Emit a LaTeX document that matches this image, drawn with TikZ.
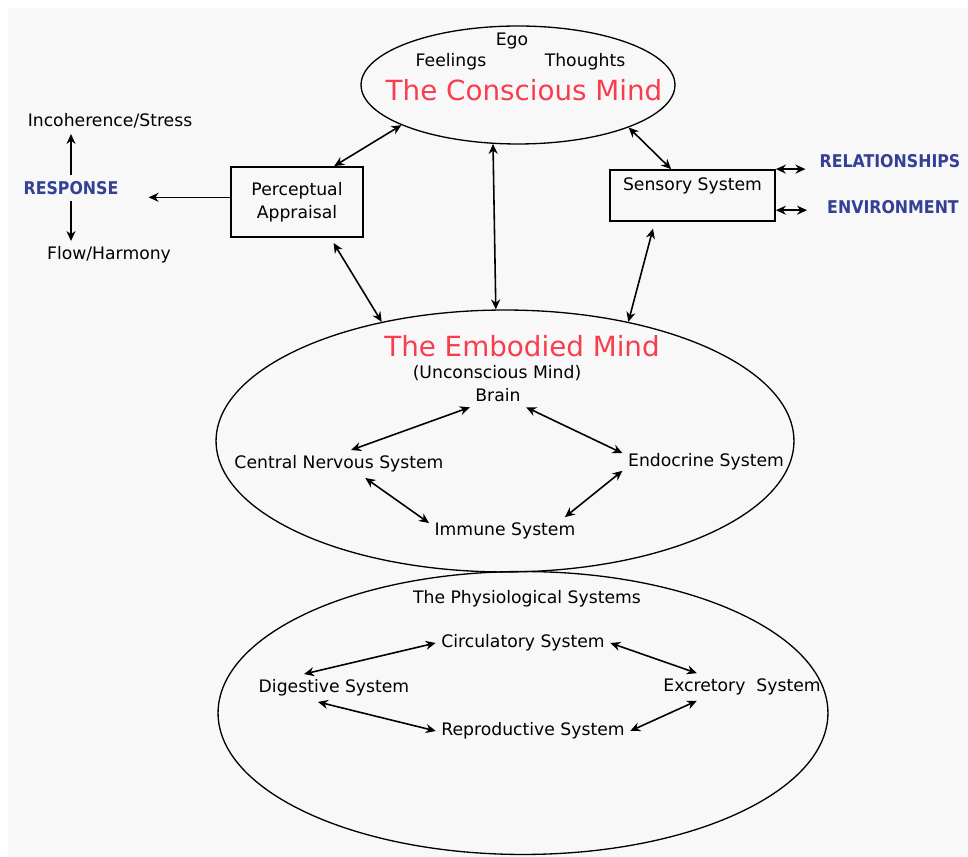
\documentclass[tikz,border=0pt]{standalone}
\usepackage{fontspec}
\setmainfont{DejaVu Sans}
\newfontfamily\condfont{DejaVu Sans Condensed}
\usetikzlibrary{shapes.geometric, arrows.meta}
\definecolor{mindred}{RGB}{248,62,78}
\definecolor{outblue}{RGB}{52,64,150}
\definecolor{paper}{RGB}{248,248,248}

\begin{document}
\begin{tikzpicture}[
  x=0.02cm, y=-0.02cm,
  oval/.style={ellipse, draw=black, line width=0.75pt, inner sep=0pt},
  box/.style={rectangle, draw=black, line width=1pt, inner sep=2pt, align=center, font=\fontsize{9.8}{13}\selectfont},
  lbl/.style={inner sep=3pt, font=\fontsize{9.8}{12}\selectfont},
  title/.style={inner sep=2pt, text=mindred, font=\fontsize{15.8}{18}\selectfont},
  outlbl/.style={text=outblue, font=\condfont\bfseries\fontsize{10}{12}\selectfont},
  arrow/.style={line width=0.9pt, -{Stealth[length=2mm,width=1.8mm]}},
  dbl/.style={line width=0.9pt, {Stealth[length=2mm,width=1.8mm]}-{Stealth[length=2mm,width=1.8mm]}}
]
\useasboundingbox (0,0) rectangle (968,857);
\fill[paper] (8,8) rectangle (968,857);

% the three minds
\node[oval, minimum width=12.2cm, minimum height=5.66cm] (phys) at (523,713) {};
\node[oval, minimum width=11.56cm, minimum height=5.24cm] (emb) at (505,441) {};
\node[oval, minimum width=6.28cm, minimum height=2.36cm] (cons) at (518,85) {};

% conscious mind
\node[lbl] (ego) at (512,41) {Ego};
\node[lbl] (feel) at (451,62) {Feelings};
\node[lbl] (thought) at (585,62) {Thoughts};
\node[title] (constitle) at (524,90) {The Conscious Mind};

% boxes and outer labels
\node[box, minimum width=2.64cm, minimum height=1.4cm] (percep) at (297,202) {Perceptual\\Appraisal};
\node[box, minimum width=3.3cm, minimum height=1.02cm, text height=0.35cm, text depth=0.53cm] (sens) at (692.5,195.5) {Sensory System};
\node[outlbl] (rel) at (890,161) {RELATIONSHIPS};
\node[outlbl] (env) at (893,207) {ENVIRONMENT};
\node[outlbl] (resp) at (71,188) {RESPONSE};
\node[lbl] (incoh) at (110,121) {Incoherence/Stress};
\node[lbl] (flow) at (109,255) {Flow/Harmony};

% embodied mind
\node[title] (embtitle) at (522,346) {The Embodied Mind};
\node[lbl] (uncon) at (497,373) {(Unconscious Mind)};
\node[lbl] (brain) at (498,395) {Brain};
\node[lbl] (cns) at (339,464) {Central Nervous System};
\node[lbl] (endo) at (706,462) {Endocrine System};
\node[lbl] (immune) at (505,531) {Immune System};

% physiological systems
\node[lbl] (physlbl) at (527,599) {The Physiological Systems};
\node[lbl] (circ) at (523,643) {Circulatory System};
\node[lbl] (dig) at (334,688) {Digestive System};
\node[lbl] (exc) at (742,687) {Excretory\ \ System};
\node[lbl] (repro) at (533,731) {Reproductive System};

% connectors
\draw[dbl] (percep.44) -- (cons.199);
\draw[dbl] (sens.129) -- (cons.339.4);
\draw[dbl] (cons.247.9) -- (emb.94.8);
\draw[dbl, shorten <=0.12cm] (percep.313) -- (emb.136.6);
\draw[dbl, shorten <=0.14cm] (sens.215.7) -- (emb.44);
\draw[dbl, shorten >=0.16cm] (sens.north east) -- (rel.west |- sens.north east);
\draw[dbl, shorten >=0.28cm] (sens.350) -- (env.west |- sens.350);
\draw[arrow, shorten >=0.48cm] (percep.176) -- (resp.east |- percep.176);
\draw[arrow] (resp.north) -- (resp.north |- incoh.south);
\draw[arrow] (resp.south) -- (resp.south |- flow.north);

\draw[dbl] (brain.south west) -- (cns.49);
\draw[dbl] (brain.south east) -- (endo.174);
\draw[dbl] (cns.332.6) -- (immune.174);
\draw[dbl] (endo.186) -- (immune.13);

\draw[dbl] (dig.155) -- (circ.west);
\draw[dbl] (circ.east) -- (exc.163);
\draw[dbl] (dig.221) -- (repro.west);
\draw[dbl] (exc.197) -- (repro.east);
\end{tikzpicture}
\end{document}
